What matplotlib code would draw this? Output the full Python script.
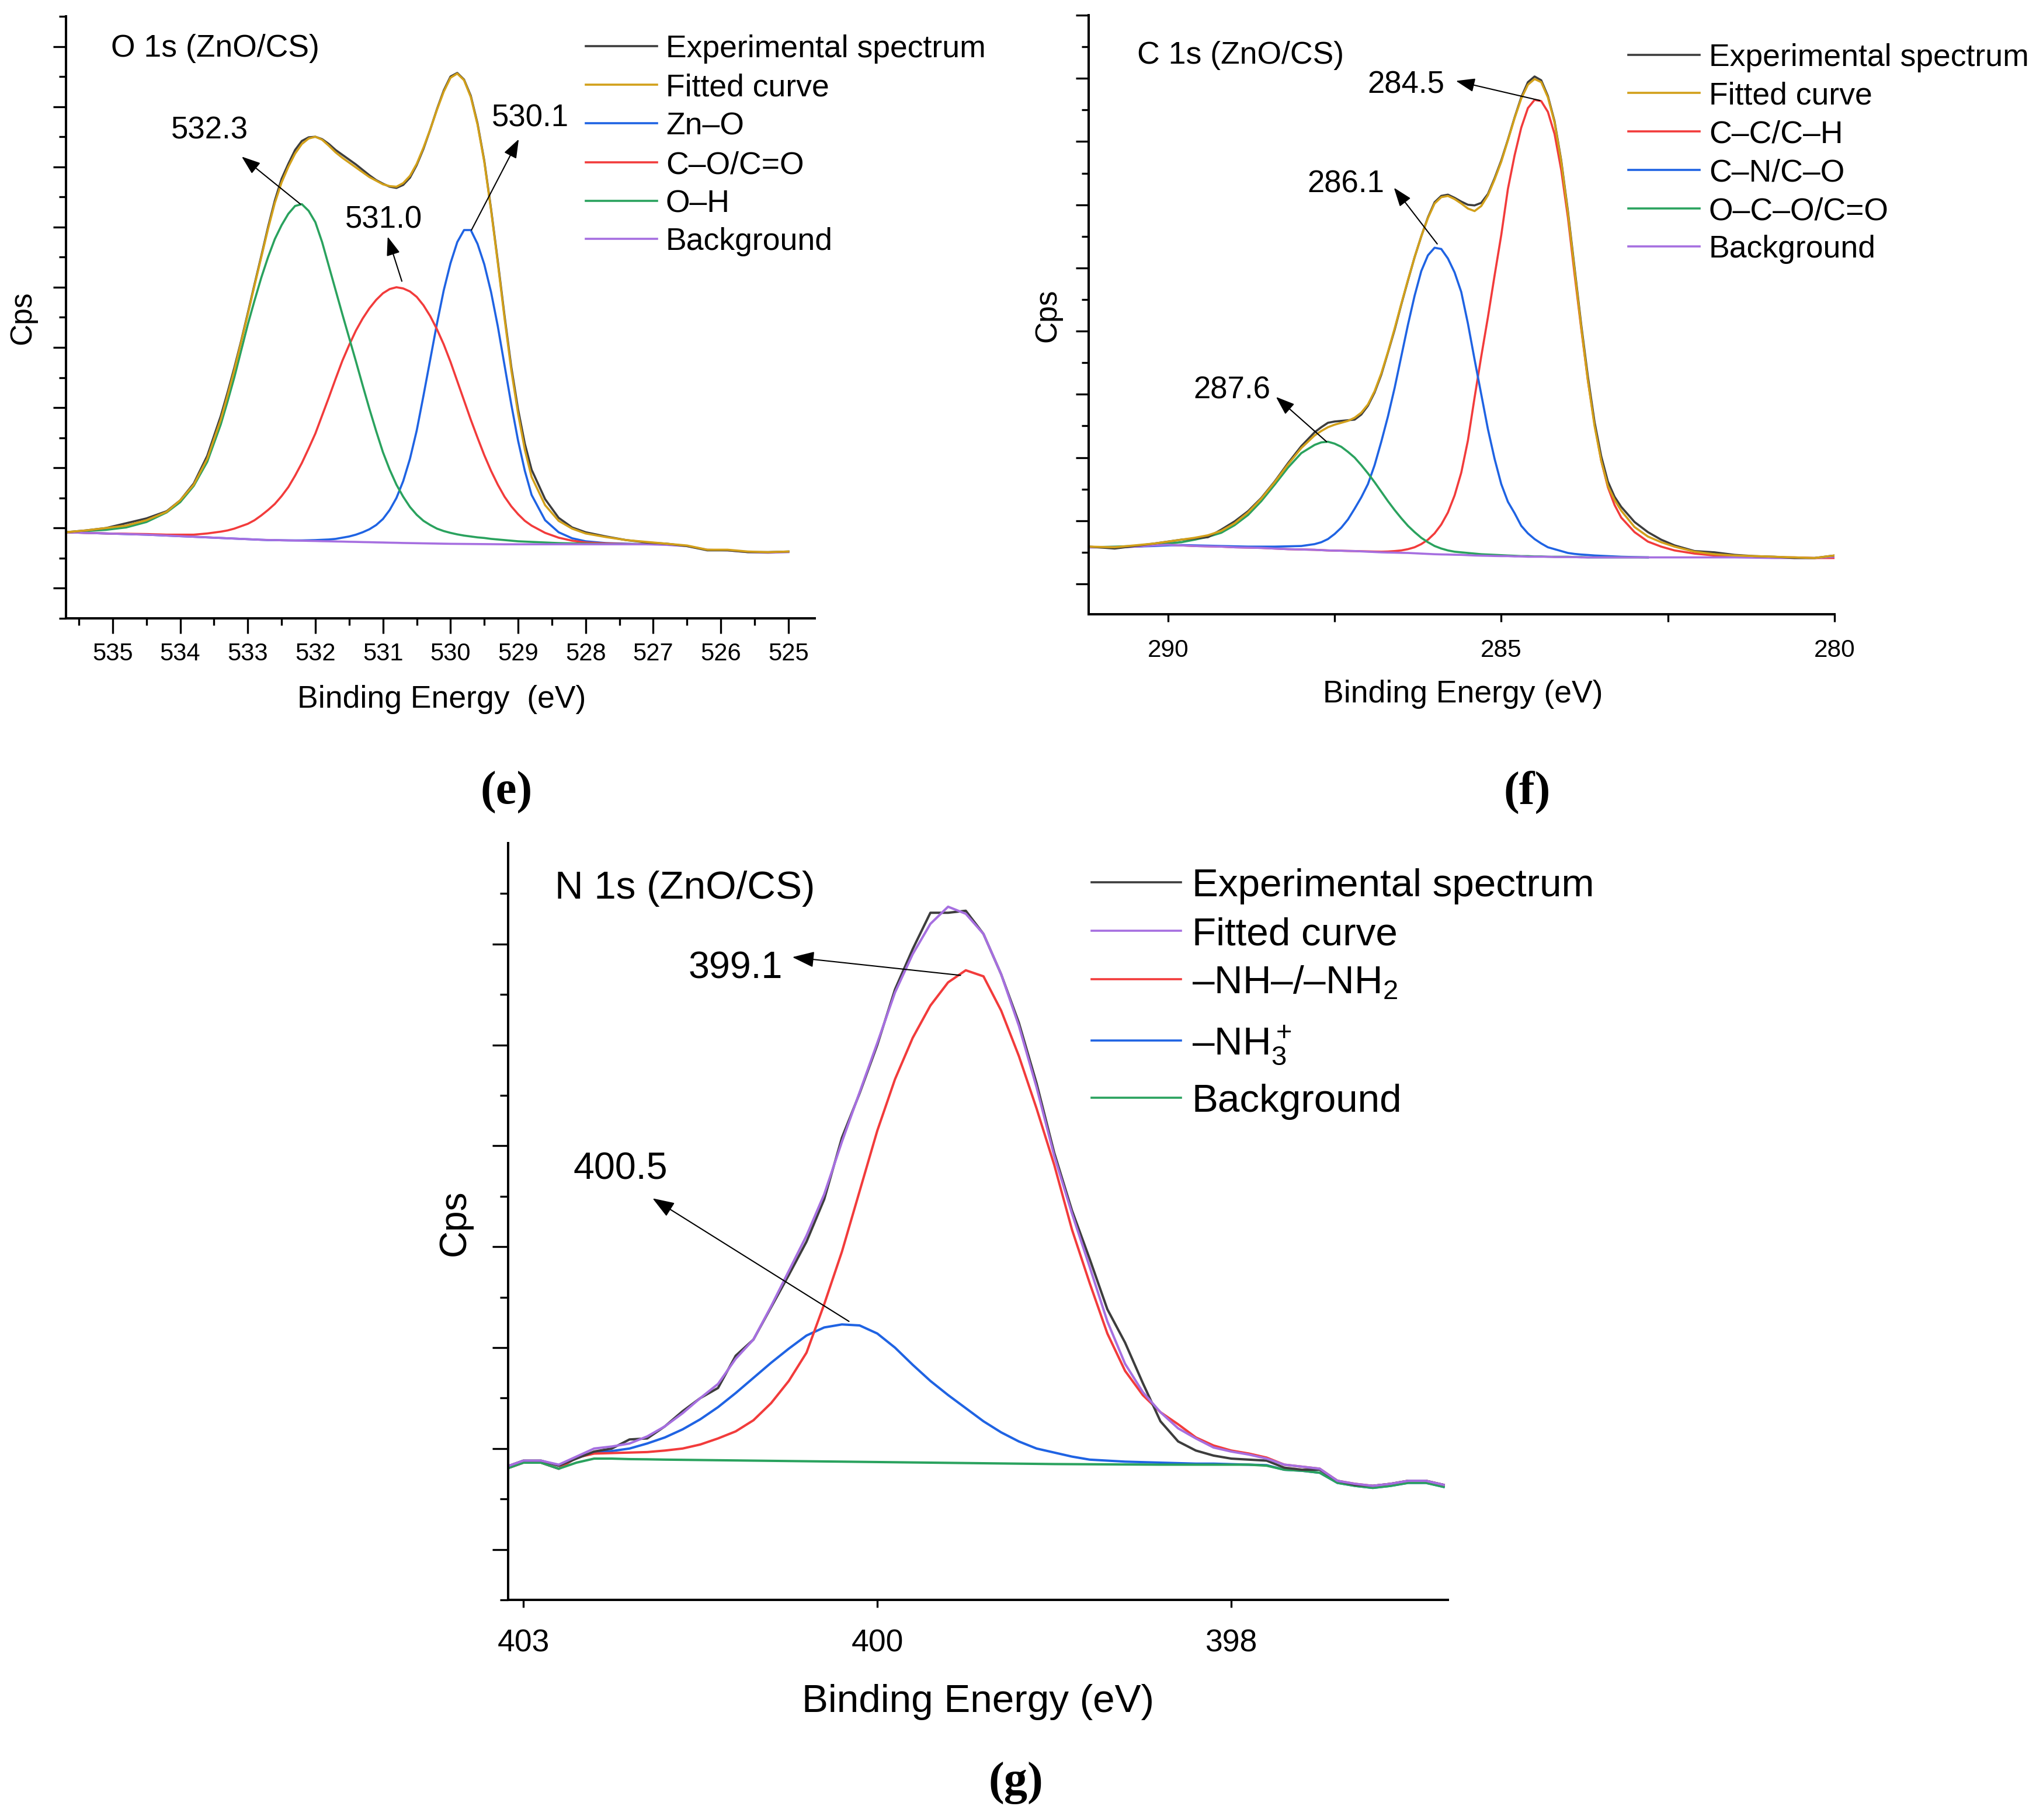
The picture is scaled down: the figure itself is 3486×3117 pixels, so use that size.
import matplotlib
matplotlib.use('Agg')
import matplotlib.pyplot as plt
from matplotlib.lines import Line2D
from matplotlib.ticker import FixedLocator, FixedFormatter

plt.rcParams['font.family'] = ['Liberation Sans', 'DejaVu Sans']
plt.rcParams['mathtext.fontset'] = 'custom'
plt.rcParams['mathtext.rm'] = 'Liberation Sans'
plt.rcParams['mathtext.it'] = 'Liberation Sans:italic'
plt.rcParams['mathtext.bf'] = 'Liberation Sans:bold'

nan = float('nan')

# ---------------- (e) O 1s ----------------
e_energy = [535.7, 535.4, 535.1, 534.8, 534.5, 534.2, 534.0, 533.8, 533.6, 533.4,
            533.3, 533.2, 533.1, 533.0, 532.9, 532.8, 532.7, 532.6, 532.5, 532.4,
            532.3, 532.2, 532.1, 532.0, 531.9, 531.8, 531.7, 531.6, 531.5, 531.4,
            531.3, 531.2, 531.1, 531.0, 530.9, 530.8, 530.7, 530.6, 530.5,
            530.4, 530.3, 530.2, 530.1, 530.0, 529.9, 529.8, 529.7, 529.6, 529.5,
            529.4, 529.3, 529.2, 529.1, 529.0, 528.9, 528.8,
            528.6, 528.4, 528.2, 528.0, 527.7, 527.4, 527.1,
            526.8, 526.5, 526.2, 525.9, 525.6, 525.3, 525.0]
e_experimental = [0.93, 0.96, 1.00, 1.08, 1.16, 1.28, 1.46, 1.74, 2.20, 2.86,
                  3.25, 3.66, 4.10, 4.57, 5.05, 5.52, 6.00, 6.44, 6.80, 7.05,
                  7.28, 7.43, 7.49, 7.50, 7.46, 7.38, 7.28, 7.20, 7.12, 7.04,
                  6.95, 6.86, 6.78, 6.72, 6.67, 6.65, 6.70, 6.82, 7.03,
                  7.30, 7.62, 7.96, 8.27, 8.50, 8.56, 8.45, 8.18, 7.72, 7.10,
                  6.30, 5.43, 4.52, 3.67, 2.97, 2.40, 1.97,
                  1.48, 1.17, 1.01, 0.93, 0.86, 0.80, 0.76,
                  0.74, 0.70, 0.63, 0.63, 0.60, 0.60, 0.61]
e_fitted = [0.93, 0.96, 1.00, 1.04, 1.13, 1.27, 1.46, 1.72, 2.15, 2.80,
            3.20, 3.62, 4.08, 4.55, 5.03, 5.50, 5.97, 6.40, 6.74, 7.00,
            7.22, 7.38, 7.47, 7.50, 7.45, 7.35, 7.24, 7.15, 7.07, 6.99,
            6.91, 6.83, 6.77, 6.71, 6.68, 6.67, 6.73, 6.85, 7.05,
            7.32, 7.62, 7.95, 8.25, 8.48, 8.55, 8.44, 8.16, 7.70, 7.08,
            6.28, 5.40, 4.48, 3.62, 2.90, 2.30, 1.85,
            1.38, 1.12, 0.99, 0.91, 0.85, 0.80, 0.77,
            0.74, 0.71, 0.64, 0.64, 0.61, 0.60, 0.61]
e_zn_o = [0.93, 0.92, 0.91, 0.90, 0.89, 0.875, 0.865, 0.855, 0.845, 0.835,
          0.83, 0.825, 0.82, 0.815, 0.81, 0.805, 0.80, 0.80, 0.797, 0.795,
          0.795, 0.795, 0.797, 0.80, 0.805, 0.81, 0.82, 0.84, 0.86, 0.89,
          0.93, 0.98, 1.05, 1.15, 1.30, 1.50, 1.78, 2.15, 2.62,
          3.20, 3.80, 4.40, 4.95, 5.40, 5.75, 5.95, 5.95, 5.72, 5.38,
          4.92, 4.35, 3.70, 3.05, 2.45, 1.95, 1.55,
          1.13, 0.93, 0.83, 0.78, 0.75, 0.74, 0.73,
          nan, nan, nan, nan, nan, nan, nan]
e_c_o = [0.93, 0.92, 0.91, 0.905, 0.90, 0.89, 0.89, 0.89, 0.91, 0.94,
         0.96, 0.99, 1.03, 1.07, 1.13, 1.21, 1.30, 1.40, 1.53, 1.68,
         1.87, 2.08, 2.32, 2.57, 2.87, 3.17, 3.48, 3.78, 4.04, 4.28,
         4.48, 4.65, 4.79, 4.90, 4.97, 5.00, 4.98, 4.93, 4.84,
         4.70, 4.52, 4.30, 4.05, 3.76, 3.44, 3.12, 2.80, 2.50, 2.21,
         1.95, 1.72, 1.52, 1.36, 1.23, 1.12, 1.04,
         0.92, 0.84, 0.79, 0.76, 0.745, 0.735, 0.73,
         nan, nan, nan, nan, nan, nan, nan]
e_o_h = [0.93, 0.95, 0.97, 1.01, 1.10, 1.26, 1.43, 1.70, 2.10, 2.72,
         3.10, 3.50, 3.94, 4.38, 4.78, 5.16, 5.50, 5.80, 6.03, 6.22,
         6.35, 6.38, 6.27, 6.08, 5.75, 5.35, 4.95, 4.55, 4.16, 3.77,
         3.37, 2.98, 2.61, 2.26, 1.97, 1.72, 1.52, 1.35, 1.22,
         1.12, 1.05, 0.99, 0.95, 0.92, 0.895, 0.875, 0.86, 0.845, 0.835,
         0.82, 0.81, 0.80, 0.79, 0.78, 0.775, 0.77,
         0.76, 0.75, 0.745, 0.74, 0.735, 0.73, 0.73,
         nan, nan, nan, nan, nan, nan, nan]
e_background = [0.93, 0.92, 0.91, 0.90, 0.89, 0.875, 0.865, 0.855, 0.845, 0.835,
                0.83, 0.825, 0.82, 0.815, 0.81, 0.805, 0.802, 0.80, 0.797, 0.795,
                0.792, 0.79, 0.787, 0.785, 0.782, 0.78, 0.777, 0.775, 0.772, 0.77,
                0.767, 0.765, 0.762, 0.76, 0.757, 0.755, 0.752, 0.75, 0.748,
                0.746, 0.744, 0.742, 0.74, 0.738, 0.737, 0.736, 0.735, 0.734, 0.733,
                0.732, 0.731, 0.73, 0.73, 0.73, 0.73, 0.73,
                0.73, 0.73, 0.73, 0.73, 0.73, 0.73, 0.73,
                0.72, 0.70, 0.64, 0.63, 0.60, 0.59, 0.60]
e_xticks = [535, 534, 533, 532, 531, 530, 529, 528, 527, 526, 525]
e_xticklabels = ['535', '534', '533', '532', '531', '530', '529', '528', '527', '526', '525']
e_legend = ['Experimental spectrum', 'Fitted curve', 'Zn–O', 'C–O/C=O', 'O–H', 'Background']
e_peak_labels = ['532.3', '531.0', '530.1']

# ---------------- (f) C 1s ----------------
f_energy = [291.18, 290.8, 290.5, 290.2, 290.0, 289.8, 289.6, 289.4, 289.2, 289.0,
            288.8, 288.6, 288.4, 288.2, 288.0, 287.8,
            287.7, 287.6, 287.5, 287.4, 287.3, 287.2, 287.1, 287.0, 286.9, 286.8,
            286.7, 286.6, 286.5, 286.4, 286.3, 286.2, 286.1, 286.0, 285.9, 285.8,
            285.7, 285.6, 285.5, 285.4, 285.3, 285.2, 285.1, 285.0, 284.9, 284.8,
            284.7, 284.6, 284.5, 284.4, 284.3, 284.2, 284.1, 284.0, 283.9, 283.8,
            283.7, 283.6, 283.5, 283.4, 283.3,
            283.2, 283.0, 282.8,
            282.6, 282.4, 282.1, 281.8, 281.5, 281.2, 280.9, 280.6, 280.3, 280.0]
f_experimental = [0.59, 0.56, 0.60, 0.64, 0.67, 0.70, 0.72, 0.74, 0.86, 0.99,
                  1.15, 1.36, 1.62, 1.91, 2.18, 2.40,
                  2.48, 2.55, 2.57, 2.58, 2.59, 2.60, 2.68, 2.82, 3.03, 3.31,
                  3.66, 4.02, 4.42, 4.80, 5.17, 5.50, 5.80, 6.04, 6.14, 6.16,
                  6.11, 6.05, 6.00, 5.99, 6.03, 6.17, 6.42, 6.70, 7.03, 7.38,
                  7.70, 7.94, 8.03, 7.97, 7.72, 7.32, 6.70, 5.90, 5.00, 4.10,
                  3.28, 2.56, 2.02, 1.62, 1.38,
                  1.22, 0.98, 0.82,
                  0.70, 0.61, 0.52, 0.50, 0.46, 0.44, 0.43, 0.41, 0.41, 0.45]
f_fitted = [0.59, 0.58, 0.61, 0.64, 0.67, 0.70, 0.73, 0.77, 0.84, 0.96,
            1.13, 1.35, 1.61, 1.89, 2.15, 2.35,
            2.42, 2.48, 2.52, 2.55, 2.58, 2.63, 2.71, 2.84, 3.05, 3.33,
            3.67, 4.04, 4.43, 4.81, 5.17, 5.50, 5.79, 6.02, 6.12, 6.14,
            6.09, 6.02, 5.94, 5.90, 5.98, 6.15, 6.40, 6.68, 7.02, 7.37,
            7.68, 7.90, 7.99, 7.94, 7.70, 7.30, 6.68, 5.87, 4.96, 4.06,
            3.22, 2.50, 1.95, 1.55, 1.33,
            1.16, 0.90, 0.75,
            0.66, 0.59, 0.51, 0.47, 0.45, 0.44, 0.43, 0.42, 0.41, 0.45]
f_cc_ch = [0.58, 0.58, 0.59, 0.61, 0.62, 0.61, 0.60, 0.595, 0.59, 0.58,
           0.575, 0.57, 0.56, 0.55, 0.545, 0.54,
           0.535, 0.53, 0.527, 0.525, 0.522, 0.52, 0.517, 0.515, 0.512, 0.51,
           0.513, 0.52, 0.53, 0.55, 0.58, 0.63, 0.70, 0.80, 0.94, 1.13,
           1.40, 1.76, 2.27, 2.95, 3.60, 4.22, 4.88, 5.52, 6.25, 6.78,
           7.22, 7.53, 7.66, 7.64, 7.47, 7.12, 6.55, 5.80, 4.90, 4.04,
           3.22, 2.53, 1.95, 1.53, 1.25,
           1.05, 0.82, 0.67,
           0.59, 0.53, 0.48, 0.45, 0.44, 0.43, 0.42, 0.42, 0.41, 0.41]
f_cn_co = [0.58, 0.58, 0.59, 0.60, 0.61, 0.615, 0.61, 0.605, 0.60, 0.595,
           0.59, 0.59, 0.59, 0.595, 0.60, 0.63,
           0.66, 0.71, 0.79, 0.89, 1.02, 1.19, 1.37, 1.58, 1.88, 2.25,
           2.65, 3.10, 3.60, 4.10, 4.56, 4.95, 5.20, 5.32, 5.30, 5.15,
           4.93, 4.62, 4.12, 3.55, 3.00, 2.45, 1.98, 1.58, 1.30, 1.12,
           0.92, 0.80, 0.71, 0.64, 0.58, 0.55, 0.52, 0.49, 0.475, 0.465,
           0.458, 0.45, 0.445, 0.44, 0.435,
           0.43, 0.425, 0.42,
           nan, nan, nan, nan, nan, nan, nan, nan, nan, nan]
f_oco = [0.58, 0.59, 0.60, 0.62, 0.64, 0.66, 0.70, 0.745, 0.81, 0.93,
         1.09, 1.31, 1.57, 1.84, 2.07, 2.20,
         2.24, 2.25, 2.22, 2.17, 2.09, 2.00, 1.88, 1.75, 1.61, 1.46,
         1.31, 1.17, 1.04, 0.92, 0.82, 0.73, 0.66, 0.60, 0.56, 0.53,
         0.51, 0.50, 0.49, 0.48, 0.47, 0.465, 0.46, 0.455, 0.45, 0.445,
         0.44, 0.44, 0.435, 0.435, 0.43, 0.43, 0.43, 0.43, 0.425, 0.425,
         0.42, 0.42, 0.42, 0.42, 0.42,
         0.42, 0.42, 0.42,
         nan, nan, nan, nan, nan, nan, nan, nan, nan, nan]
f_background = [0.58, 0.58, 0.59, 0.61, 0.62, 0.61, 0.60, 0.595, 0.59, 0.58,
                0.575, 0.57, 0.56, 0.55, 0.545, 0.54,
                0.535, 0.53, 0.527, 0.525, 0.522, 0.52, 0.515, 0.51, 0.505, 0.50,
                0.497, 0.495, 0.492, 0.49, 0.485, 0.48, 0.475, 0.47, 0.467, 0.465,
                0.462, 0.46, 0.455, 0.45, 0.447, 0.445, 0.442, 0.44, 0.44, 0.435,
                0.435, 0.43, 0.43, 0.43, 0.43, 0.425, 0.425, 0.425, 0.425, 0.42,
                0.42, 0.42, 0.42, 0.42, 0.42,
                0.42, 0.42, 0.42,
                0.42, 0.42, 0.42, 0.42, 0.42, 0.415, 0.41, 0.41, 0.41, 0.43]
f_xticks = [290, 285, 280]
f_xticklabels = ['290', '285', '280']
f_legend = ['Experimental spectrum', 'Fitted curve', 'C–C/C–H', 'C–N/C–O', 'O–C–O/C=O', 'Background']
f_peak_labels = ['287.6', '286.1', '284.5']

# ---------------- (g) N 1s ----------------
g_energy = [402.08, 402.0, 401.9, 401.8, 401.7, 401.6, 401.5, 401.4, 401.3, 401.2, 401.1, 401.0,
            400.9, 400.8, 400.7, 400.6, 400.5, 400.4, 400.3, 400.2, 400.1, 400.0, 399.9, 399.8,
            399.7, 399.6, 399.5, 399.4, 399.3, 399.2, 399.1, 399.0, 398.9, 398.8, 398.7, 398.6,
            398.5, 398.4, 398.3, 398.2, 398.1, 398.0, 397.9, 397.8, 397.7, 397.6, 397.5, 397.4,
            397.3, 397.2, 397.1, 397.0, 396.9, 396.8]
g_experimental = [0.83, 0.88, 0.88, 0.83, 0.90, 0.97, 1.00, 1.09, 1.10, 1.22, 1.37, 1.50,
                  1.60, 1.92, 2.08, 2.40, 2.72, 3.05, 3.47, 4.08, 4.52, 5.00, 5.55, 5.95,
                  6.31, 6.31, 6.33, 6.10, 5.70, 5.22, 4.62, 3.93, 3.36, 2.88, 2.38, 2.05,
                  1.65, 1.27, 1.07, 0.98, 0.93, 0.90, 0.89, 0.88, 0.81, 0.79, 0.79, 0.68,
                  0.64, 0.63, 0.65, 0.68, 0.68, 0.64]
g_fitted = [0.83, 0.88, 0.88, 0.84, 0.92, 1.00, 1.02, 1.05, 1.12, 1.22, 1.35, 1.50,
            1.64, 1.89, 2.08, 2.41, 2.76, 3.11, 3.52, 4.04, 4.53, 5.02, 5.52, 5.90,
            6.20, 6.37, 6.30, 6.10, 5.70, 5.19, 4.58, 3.90, 3.33, 2.80, 2.26, 1.84,
            1.56, 1.36, 1.20, 1.10, 1.01, 0.97, 0.94, 0.90, 0.84, 0.82, 0.80, 0.68,
            0.65, 0.63, 0.65, 0.68, 0.68, 0.64]
g_nh_nh2 = [0.81, 0.86, 0.86, 0.80, 0.91, 0.95, 0.955, 0.96, 0.965, 0.98, 1.00, 1.04,
            1.10, 1.17, 1.28, 1.45, 1.67, 1.95, 2.43, 2.95, 3.55, 4.15, 4.66, 5.07,
            5.39, 5.62, 5.74, 5.68, 5.34, 4.89, 4.37, 3.81, 3.17, 2.64, 2.14, 1.77,
            1.53, 1.36, 1.24, 1.11, 1.03, 0.98, 0.95, 0.91, 0.84, 0.82, 0.80, 0.68,
            0.65, 0.63, 0.65, 0.68, 0.68, 0.64]
g_nh3 = [0.81, 0.86, 0.86, 0.80, 0.91, 0.96, 0.975, 1.00, 1.05, 1.11, 1.19, 1.29,
         1.41, 1.55, 1.70, 1.85, 1.99, 2.12, 2.20, 2.23, 2.22, 2.14, 2.00, 1.83,
         1.67, 1.53, 1.40, 1.27, 1.16, 1.07, 1.00, 0.96, 0.92, 0.89, 0.88, 0.87,
         0.865, 0.86, 0.855, 0.85, 0.85, 0.845, 0.84, 0.835, 0.79, 0.78, 0.76, 0.66,
         0.63, 0.61, 0.63, 0.66, 0.66, 0.62]
g_background = [0.81, 0.86, 0.86, 0.80, 0.86, 0.90, 0.90, 0.895, 0.893, 0.89, 0.888, 0.886,
                0.884, 0.882, 0.88, 0.878, 0.876, 0.874, 0.872, 0.87, 0.868, 0.866, 0.864, 0.862,
                0.86, 0.858, 0.856, 0.854, 0.852, 0.85, 0.848, 0.846, 0.845, 0.844, 0.843, 0.842,
                0.841, 0.84, 0.84, 0.84, 0.84, 0.84, 0.84, 0.83, 0.79, 0.78, 0.76, 0.66,
                0.63, 0.61, 0.63, 0.66, 0.66, 0.62]
g_xticks = [402, 400, 398]
g_xticklabels = ['403', '400', '398']
g_legend = ['Experimental spectrum', 'Fitted curve', r'–NH–/–NH$\mathregular{_2}$',
            r'–NH$\mathregular{_3^+}$', 'Background']
g_peak_labels = ['399.1', '400.5']

# ---------------- layout ----------------
W, H = 3487, 3117
fig = plt.figure(figsize=(W / 100, H / 100), dpi=100)


def rect(l, t, r, b):
    return [l / W, 1 - b / H, (r - l) / W, (b - t) / H]


def fx(x):
    return x / W


def fy(y):
    return 1 - y / H


GRAY = '#3d3d3d'
GOLD = '#D2A01A'
RED = '#F23B3B'
BLUE = '#1F63E3'
GREEN = '#2AA25E'
PURPLE = '#A66FE0'
LW = 2.6


def style(ax, xmaj, xmin, ymaj, ymin, lsize, pad):
    for s in ['top', 'right']:
        ax.spines[s].set_visible(False)
    for s in ['left', 'bottom']:
        ax.spines[s].set_linewidth(2.9)
    ax.tick_params(axis='x', which='major', direction='out', length=xmaj, width=2.4,
                   labelsize=lsize, pad=pad)
    ax.tick_params(axis='x', which='minor', direction='out', length=xmin, width=2.4)
    ax.tick_params(axis='y', which='major', direction='out', length=ymaj, width=2.4,
                   labelleft=False)
    ax.tick_params(axis='y', which='minor', direction='out', length=ymin, width=2.4)


def arrow(ax, tail, head, ms=36):
    ax.annotate('', xy=head, xytext=tail,
                arrowprops=dict(arrowstyle='-|>,head_length=0.55,head_width=0.2',
                                mutation_scale=ms, lw=1.5, color='black',
                                shrinkA=0, shrinkB=0))


def legend(labels, colors, x0, x1, xt, rows, size):
    half_cap = 0.358 * size * 100 / 72
    for lab, col, y in zip(labels, colors, rows):
        fig.add_artist(Line2D([fx(x0), fx(x1)], [fy(y), fy(y)], transform=fig.transFigure,
                              color=col, lw=2.6))
        fig.text(fx(xt), fy(y + half_cap), lab, fontsize=size, ha='left', va='baseline')


# ---- panel e ----
ax = fig.add_axes(rect(113, 28, 1395, 1059))
ax.plot(e_energy, e_zn_o, color=BLUE, lw=LW)
ax.plot(e_energy, e_c_o, color=RED, lw=LW)
ax.plot(e_energy, e_o_h, color=GREEN, lw=LW)
ax.plot(e_energy, e_background, color=PURPLE, lw=LW)
ax.plot(e_energy, e_experimental, color=GRAY, lw=LW)
ax.plot(e_energy, e_fitted, color=GOLD, lw=LW)
ax.set_xlim(535.69, 524.61)
ax.set_ylim(-0.5, 9.5)
ax.xaxis.set_major_locator(FixedLocator(e_xticks))
ax.xaxis.set_major_formatter(FixedFormatter(e_xticklabels))
ax.xaxis.set_minor_locator(FixedLocator([535.5, 534.5, 533.5, 532.5, 531.5, 530.5, 529.5,
                                         528.5, 527.5, 526.5, 525.5]))
ax.yaxis.set_major_locator(FixedLocator(list(range(0, 10))))
ax.yaxis.set_minor_locator(FixedLocator([-0.5, 0.5, 1.5, 2.5, 3.5, 4.5, 5.5, 6.5, 7.5, 8.5, 9.5]))
style(ax, 18.4, 8.6, 15.8, 8.6, 30, 11)
arrow(ax, (532.22, 6.38), (533.09, 7.17))
arrow(ax, (530.72, 5.10), (530.93, 5.84))
arrow(ax, (529.69, 5.95), (528.99, 7.46))
ax.text(533.56, 7.47, e_peak_labels[0], fontsize=38, ha='center', va='baseline')
ax.text(530.99, 5.98, e_peak_labels[1], fontsize=38, ha='center', va='baseline')
ax.text(528.82, 7.67, e_peak_labels[2], fontsize=38, ha='center', va='baseline')
fig.text(fx(190), fy(97), 'O 1s (ZnO/CS)', fontsize=38.5, ha='left', va='baseline')
fig.text(fx(756), fy(1212), 'Binding Energy  (eV)', fontsize=38.5, ha='center', va='baseline')
fig.text(fx(39), fy(544), 'Cps', fontsize=37, rotation=90, ha='center', va='center')
legend(e_legend, [GRAY, GOLD, BLUE, RED, GREEN, PURPLE], 1003, 1125, 1140,
       [79, 145, 211, 278, 344, 409], 38.5)
fig.text(fx(867), fy(1357), '(e)', fontsize=58, fontweight='bold', family='Liberation Serif',
         ha='center', va='center')

# ---- panel f ----
ax = fig.add_axes(rect(1864, 26, 3141, 1052))
ax.plot(f_energy, f_cc_ch, color=RED, lw=LW)
ax.plot(f_energy, f_cn_co, color=BLUE, lw=LW)
ax.plot(f_energy, f_oco, color=GREEN, lw=LW)
ax.plot(f_energy, f_background, color=PURPLE, lw=LW)
ax.plot(f_energy, f_experimental, color=GRAY, lw=LW)
ax.plot(f_energy, f_fitted, color=GOLD, lw=LW)
ax.set_xlim(291.19, 280.0)
ax.set_ylim(-0.48, 9.0)
ax.xaxis.set_major_locator(FixedLocator(f_xticks))
ax.xaxis.set_major_formatter(FixedFormatter(f_xticklabels))
ax.xaxis.set_minor_locator(FixedLocator([287.5, 282.5]))
ax.yaxis.set_major_locator(FixedLocator(list(range(0, 10))))
ax.yaxis.set_minor_locator(FixedLocator([0.5, 1.5, 2.5, 3.5, 4.5, 5.5, 6.5, 7.5, 8.5]))
style(ax, 9.0, 9.0, 15.8, 8.6, 30.5, 21)
arrow(ax, (287.62, 2.25), (288.38, 2.96))
arrow(ax, (285.96, 5.38), (286.61, 6.27))
arrow(ax, (284.42, 7.65), (285.68, 7.96))
ax.text(289.04, 2.93, f_peak_labels[0], fontsize=38, ha='center', va='baseline')
ax.text(287.33, 6.20, f_peak_labels[1], fontsize=38, ha='center', va='baseline')
ax.text(286.43, 7.77, f_peak_labels[2], fontsize=38, ha='center', va='baseline')
fig.text(fx(1947), fy(109), 'C 1s (ZnO/CS)', fontsize=38.5, ha='left', va='baseline')
fig.text(fx(2505), fy(1203), 'Binding Energy (eV)', fontsize=38.5, ha='center', va='baseline')
fig.text(fx(1794), fy(540), 'Cps', fontsize=37, rotation=90, ha='center', va='center')
legend(f_legend, [GRAY, GOLD, RED, BLUE, GREEN, PURPLE], 2788, 2910, 2926,
       [94, 159, 225, 291, 357, 422], 38.5)
fig.text(fx(2615), fy(1357), '(f)', fontsize=58, fontweight='bold', family='Liberation Serif',
         ha='center', va='center')

# ---- panel g ----
LWG = 2.9
ax = fig.add_axes(rect(870, 1444, 2479, 2740))
ax.plot(g_energy, g_nh3, color=BLUE, lw=LWG)
ax.plot(g_energy, g_nh_nh2, color=RED, lw=LWG)
ax.plot(g_energy, g_background, color=GREEN, lw=LWG)
ax.plot(g_energy, g_experimental, color=GRAY, lw=LWG)
ax.plot(g_energy, g_fitted, color=PURPLE, lw=LWG)
ax.set_xlim(402.086, 396.776)
ax.set_ylim(-0.5, 7.0)
ax.xaxis.set_major_locator(FixedLocator(g_xticks))
ax.xaxis.set_major_formatter(FixedFormatter(g_xticklabels))
ax.yaxis.set_major_locator(FixedLocator(list(range(0, 7))))
ax.yaxis.set_minor_locator(FixedLocator([-0.5, 0.5, 1.5, 2.5, 3.5, 4.5, 5.5, 6.5]))
style(ax, 9.4, 0, 19.2, 10.4, 38.5, 26)
arrow(ax, (399.53, 5.69), (400.48, 5.87), ms=42)
arrow(ax, (400.16, 2.26), (401.27, 3.48), ms=42)
ax.text(400.80, 5.66, g_peak_labels[0], fontsize=46.5, ha='center', va='baseline')
ax.text(401.45, 3.67, g_peak_labels[1], fontsize=46.5, ha='center', va='baseline')
fig.text(fx(950), fy(1539), 'N 1s (ZnO/CS)', fontsize=48.5, ha='left', va='baseline')
fig.text(fx(1675), fy(2932), 'Binding Energy (eV)', fontsize=48.5, ha='center', va='baseline')
fig.text(fx(779), fy(2094), 'Cps', fontsize=46, rotation=90, ha='center', va='center')
legend(g_legend, [GRAY, PURPLE, RED, BLUE, GREEN], 1869, 2022, 2041,
       [1511, 1594, 1677, 1782, 1880], 48.5)
fig.text(fx(1739), fy(3054), '(g)', fontsize=58, fontweight='bold', family='Liberation Serif',
         ha='center', va='center')

fig.savefig('out.png', dpi=100)
